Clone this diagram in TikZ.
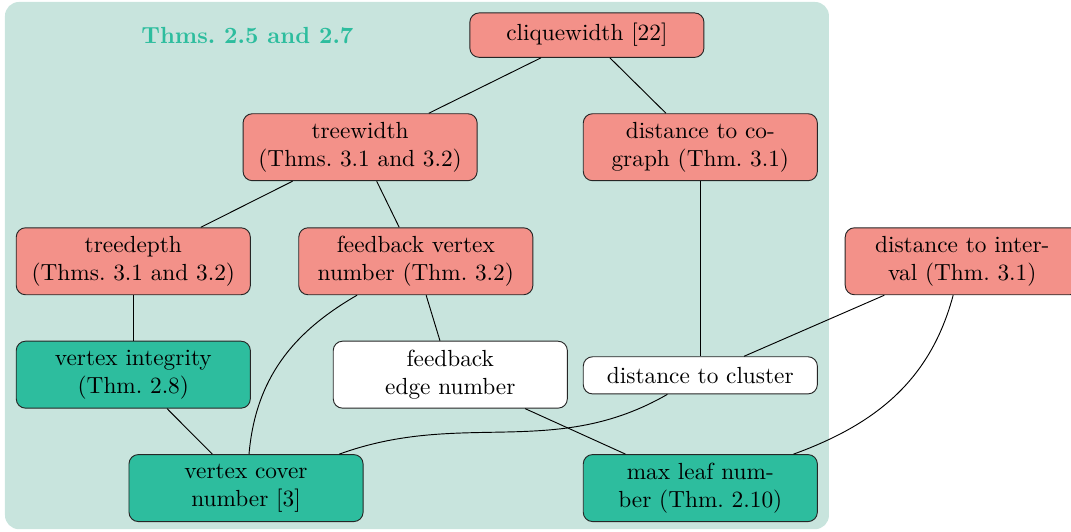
\documentclass[tikz,border=0pt]{standalone}
\usepackage{tikz}
\usetikzlibrary{positioning, calc}
\definecolor{hardred}{RGB}{243, 145, 137}
\definecolor{fptgreen}{RGB}{45, 189, 158}
\definecolor{regionbg}{RGB}{200, 228, 221}

\begin{document}
\begin{tikzpicture}[
    param/.style={draw=black!85, rounded corners=4pt, minimum width=3.53cm, minimum height=1.01cm, align=center, inner sep=3.3pt},
    hard/.style={param, fill=hardred},
    easy/.style={param, fill=fptgreen},
    open/.style={param, fill=white}]
  \useasboundingbox (0,0) rectangle (16.15,-8.01);

  % Region covered by Thms. 2.5 and 2.7
  \fill[regionbg, rounded corners=6pt] (0.075,-0.03) rectangle (12.50,-7.98);
  \node[font=\bfseries, text=fptgreen] (region) at (3.73,-0.53) {Thms.~2.5 and 2.7};

  % Hard parameters
  \node[hard, minimum height=0.67cm] (cw) at (8.85,-0.53) {cliquewidth [22]};
  \node[hard] (tw) at (5.43,-2.22) {treewidth\\(Thms.~3.1 and 3.2)};
  \node[hard] (cog) at (10.56,-2.22) {distance to co-\\graph (Thm.~3.1)};
  \node[hard] (td) at (2.01,-3.94) {treedepth\\(Thms.~3.1 and 3.2)};
  \node[hard] (fvn) at (6.27,-3.94) {feedback vertex\\number (Thm.~3.2)};
  \node[hard] (int) at (14.51,-3.94) {distance to inter-\\val (Thm.~3.1)};

  % Open parameters
  \node[open] (fen) at (6.79,-5.65) {feedback\\edge number};
  \node[open, minimum height=0.56cm] (clu) at (10.56,-5.66) {distance to cluster};

  % Tractable parameters
  \node[easy] (vi) at (2.01,-5.65) {vertex integrity\\(Thm.~2.8)};
  \node[easy] (vc) at (3.71,-7.36) {vertex cover\\number [3]};
  \node[easy] (ml) at (10.56,-7.36) {max leaf num-\\ber (Thm.~2.10)};

  % Hierarchy
  \draw (cw) -- (tw);
  \draw (cw) -- (cog);
  \draw (tw) -- (td);
  \draw (tw) -- (fvn);
  \draw (td) -- (vi);
  \draw (fvn) -- (fen);
  \draw (cog) -- (clu);
  \draw (int) -- (clu);
  \draw (vi) -- (vc);
  \draw (fen) -- (ml);
  \draw (fvn) to[out=-150, in=85] (vc);
  \draw (clu) to[out=-150, in=20] (vc);
  \draw (int) to[out=-105, in=20] (ml);
\end{tikzpicture}
\end{document}
